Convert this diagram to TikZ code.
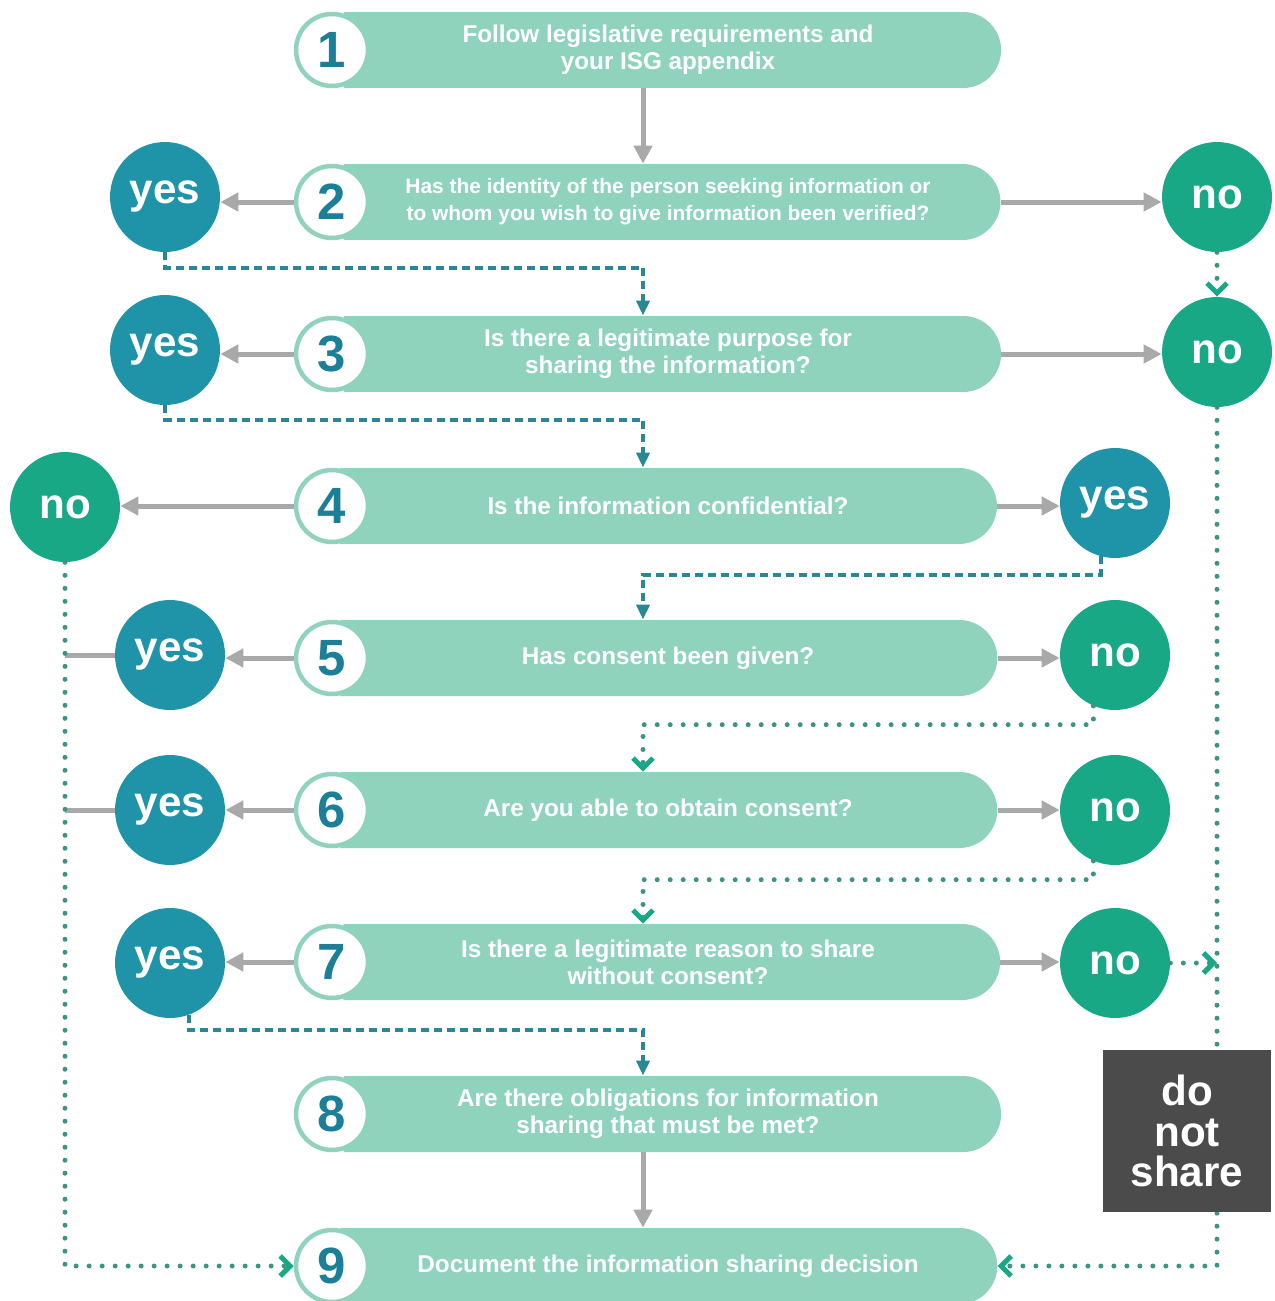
\documentclass[tikz,border=0pt]{standalone}
\usepackage{fontspec}
\setmainfont{Liberation Sans}
\usetikzlibrary{shapes.misc, arrows.meta, positioning}

\definecolor{boxmint}{HTML}{8FD3BC}
\definecolor{numteal}{HTML}{1B7F97}
\definecolor{yesteal}{HTML}{1F93A8}
\definecolor{nogreen}{HTML}{19A886}
\definecolor{arrowgray}{HTML}{A9A9A9}
\definecolor{dashteal}{HTML}{2B8796}
\definecolor{dotgreen}{HTML}{3E9484}
\definecolor{stopgray}{HTML}{4B4B4B}

\begin{document}
\begin{tikzpicture}[x=0.02cm, y=-0.02cm,
    stepbox/.style={rounded rectangle, rounded rectangle west arc=none, fill=boxmint,
        minimum width=13.14cm, minimum height=1.52cm, inner sep=0pt, align=center,
        text=white, font=\bfseries\fontsize{13.8}{15.5}\selectfont},
    stepnum/.style={circle, draw=boxmint, line width=0.09cm, fill=white, minimum size=1.44cm,
        inner sep=0pt, text=numteal, font=\bfseries\fontsize{29}{29}\selectfont},
    yesdot/.style={circle, fill=yesteal, minimum size=2.2cm, inner sep=0pt,
        text=white, font=\bfseries\fontsize{24}{24}\selectfont},
    nodot/.style={yesdot, fill=nogreen},
    stopbox/.style={rectangle, fill=stopgray, minimum width=3.36cm, minimum height=3.26cm,
        align=center, text=white, font=\bfseries\fontsize{24}{23}\selectfont},
    flow/.style={arrowgray, line width=0.1cm, -{Triangle[length=0.36cm, width=0.36cm]}},
    yespath/.style={dashteal, line width=0.08cm, dash pattern=on 0.16cm off 0.1cm,
        -{Triangle[length=0.3cm, width=0.26cm]}},
    nopath/.style={dotgreen, line width=0.1cm, line cap=round, dash pattern=on 0pt off 0.26cm,
        -{Straight Barb[nogreen, length=0.2cm, width=0.4cm, line width=0.1cm]}},
]

    \useasboundingbox (0,0) rectangle (1274,1301);

    % the nine steps
    \foreach \lbl/\fs [count=\i] in {
        {Follow legislative requirements and\\your ISG appendix}/13.8,
        {Has the identity of the person seeking information or\\to whom you wish to give information been verified?}/11.9,
        {Is there a legitimate purpose for\\sharing the information?}/13.8,
        {Is the information confidential?}/13.8,
        {Has consent been given?}/13.8,
        {Are you able to obtain consent?}/13.8,
        {Is there a legitimate reason to share\\without consent?}/13.8,
        {Are there obligations for information\\sharing that must be met?}/13.8,
        {Document the information sharing decision}/13.8}
    {
        \node[stepbox, font=\bfseries\fontsize{\fs}{15.5}\selectfont] (b\i) at (668,{50+152*(\i-1)}) {\lbl};
        \node[stepnum] (n\i) at (332,{50+152*(\i-1)}) {\i};
    }

    % answers
    \node[yesdot] (y2l) at (165,197) {yes};
    \node[nodot]  (n2r) at (1217,197) {no};
    \node[yesdot] (y3l) at (165,350) {yes};
    \node[nodot]  (n3r) at (1217,352) {no};
    \node[nodot]  (n4l) at (65,507) {no};
    \node[yesdot] (y4r) at (1115,503) {yes};
    \node[yesdot] (y5l) at (170,655) {yes};
    \node[nodot]  (n5r) at (1115,655) {no};
    \node[yesdot] (y6l) at (170,810) {yes};
    \node[nodot]  (n6r) at (1115,810) {no};
    \node[yesdot] (y7l) at (170,963) {yes};
    \node[nodot]  (n7r) at (1115,963) {no};

    % solid flow
    \draw[flow] ([xshift=-0.5cm]b1.south) -- ([xshift=-0.5cm]b2.north);
    \draw[flow] ([xshift=-0.5cm]b8.south) -- ([xshift=-0.5cm]b9.north);
    \draw[flow] (n2.west) -- (n2.west -| y2l.east);
    \draw[flow] (b2.east) -- (b2.east -| n2r.west);
    \draw[flow] (n3.west) -- (n3.west -| y3l.east);
    \draw[flow] (b3.east) -- (b3.east -| n3r.west);
    \draw[flow] (n4.west) -- (n4.west -| n4l.east);
    \draw[flow] (b4.east) -- (b4.east -| y4r.west);
    \foreach \k in {5,6,7} {
        \draw[flow] (n\k.west) -- (n\k.west -| y\k l.east);
        \draw[flow] (b\k.east) -- (b\k.east -| n\k r.west);
    }
    \draw[arrowgray, line width=0.1cm] (y5l.west) -- (y5l.west -| n4l.south);
    \draw[arrowgray, line width=0.1cm] (y6l.west) -- (y6l.west -| n4l.south);

    % yes paths
    \draw[yespath] (y2l.south) |- ([xshift=-0.5cm, yshift=0.96cm]b3.north) -- ([xshift=-0.5cm]b3.north);
    \draw[yespath] (y3l.south) |- ([xshift=-0.5cm, yshift=0.96cm]b4.north) -- ([xshift=-0.5cm]b4.north);
    \draw[yespath] (y4r.-105) |- ([xshift=-0.5cm, yshift=0.9cm]b5.north) -- ([xshift=-0.5cm]b5.north);
    \draw[yespath] (y7l.-70) |- ([xshift=-0.5cm, yshift=0.92cm]b8.north) -- ([xshift=-0.5cm]b8.north);

    % no paths
    \draw[nopath] (n5r.-113) |- ([xshift=-0.5cm, yshift=0.94cm]b6.north) -- ([xshift=-0.5cm]b6.north);
    \draw[nopath] (n6r.-113) |- ([xshift=-0.5cm, yshift=0.88cm]b7.north) -- ([xshift=-0.5cm]b7.north);
    \draw[nopath] (n2r.south) -- (n3r.north);
    \draw[nopath] (n7r.east) -- (n7r.east -| n3r.south);
    \draw[nopath] (n3r.south) |- (b9.east);
    \draw[nopath] (n4l.south) |- (n9.west);

    \node[stopbox] (stop) at (1187,1131) {do\\not\\share};

\end{tikzpicture}
\end{document}
